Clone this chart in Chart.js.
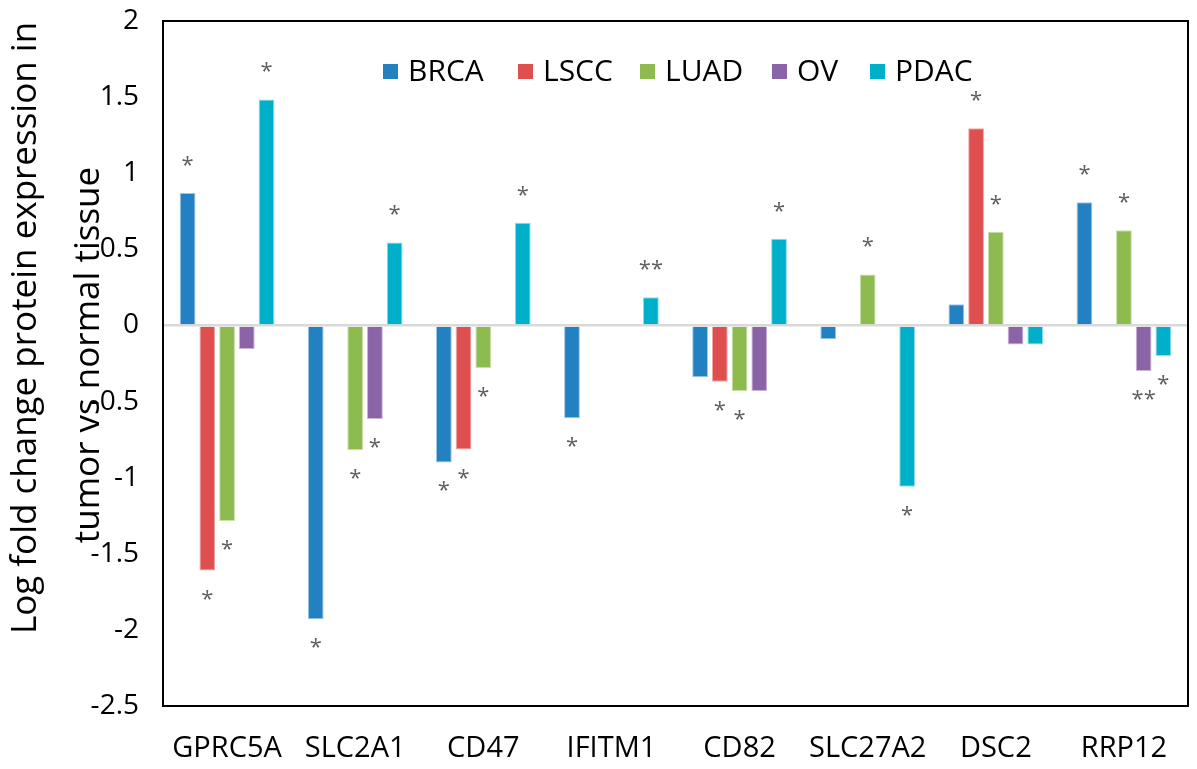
<!DOCTYPE html>
<html>
<head>
<meta charset="utf-8">
<script src="https://cdn.jsdelivr.net/npm/chart.js@4.4.1/dist/chart.umd.min.js"></script>
<style>
  html, body { margin: 0; padding: 0; background: #ffffff; }
  #wrap { width: 1197px; height: 769px; }
</style>
</head>
<body>
<div id="wrap"><canvas id="c" width="1197" height="769"></canvas></div>
<script>
// ---- data ----
const categories = ["GPRC5A", "SLC2A1", "CD47", "IFITM1", "CD82", "SLC27A2", "DSC2", "RRP12"];
const seriesNames = ["BRCA", "LSCC", "LUAD", "OV", "PDAC"];
const BRCA = [0.87, -1.93, -0.90, -0.61, -0.34, -0.09, 0.14, 0.81];
const LSCC = [-1.61, null, -0.815, null, -0.37, null, 1.295, null];
const LUAD = [-1.285, -0.82, -0.28, null, -0.43, 0.335, 0.615, 0.625];
const OV   = [-0.155, -0.615, null, null, -0.43, null, -0.125, -0.30];
const PDAC = [1.485, 0.545, 0.675, 0.185, 0.57, -1.06, -0.125, -0.20];
// significance marks
const sigBRCA = ["*", "*", "*", "*", "", "", "", "*"];
const sigLSCC = ["*", "", "*", "", "*", "", "*", ""];
const sigLUAD = ["*", "*", "*", "", "*", "*", "*", "*"];
const sigOV   = ["", "*", "", "", "", "", "", "**"];
const sigPDAC = ["*", "*", "*", "**", "*", "*", "", "*"];
const yTicks = [2, 1.5, 1, 0.5, 0, -0.5, -1, -1.5, -2, -2.5];
const yTitle = ["Log fold change protein expression in", "tumor vs normal tissue"];

const seriesValues = [BRCA, LSCC, LUAD, OV, PDAC];
const seriesSig = [sigBRCA, sigLSCC, sigLUAD, sigOV, sigPDAC];
const fillColors = ["#2381c2", "#df4f4f", "#8dbb4f", "#8a64a6", "#00afc9"];
const edgeColors = ["#9cc6e6", "#f0a9a9", "#c9e0a8", "#c8b4d6", "#8fdbe6"];

const FONT = "'Open Sans', 'Noto Sans', sans-serif";

const datasets = seriesNames.map((n, i) => ({
  label: n,
  data: seriesValues[i],
  backgroundColor: fillColors[i],
  borderColor: edgeColors[i],
  borderWidth: 1,
  categoryPercentage: 0.77,
  barPercentage: 0.8
}));

const decorPlugin = {
  id: 'decor',
  afterDraw(chart) {
    const ctx = chart.ctx;
    const a = chart.chartArea;
    ctx.save();
    // frame
    ctx.strokeStyle = "#000000";
    ctx.lineWidth = 2;
    ctx.strokeRect(a.left, a.top, a.right - a.left, a.bottom - a.top);

    // asterisks
    ctx.fillStyle = "#5f5f5f";
    ctx.font = "22px " + FONT;
    ctx.textAlign = "center";
    ctx.textBaseline = "alphabetic";
    seriesSig.forEach((sig, i) => {
      const meta = chart.getDatasetMeta(i);
      sig.forEach((s, j) => {
        if (!s) return;
        const v = seriesValues[i][j];
        const bar = meta.data[j];
        const m = ctx.measureText(s);
        const off = (m.actualBoundingBoxAscent - m.actualBoundingBoxDescent) / 2;
        const cy = v >= 0 ? bar.y - 32 : bar.y + 24;
        ctx.fillText(s, bar.x, cy + off);
      });
    });

    // legend
    ctx.font = "30px " + FONT;
    ctx.textAlign = "left";
    ctx.textBaseline = "middle";
    const legX = [383, 518, 640, 772, 870];
    const legY = 72;
    seriesNames.forEach((n, i) => {
      ctx.fillStyle = fillColors[i];
      ctx.fillRect(legX[i], legY - 8, 15, 15);
      ctx.fillStyle = "#000000";
      ctx.fillText(n, legX[i] + 25, legY);
    });

    // y title
    ctx.font = "35px " + FONT;
    ctx.fillStyle = "#000000";
    ctx.textAlign = "center";
    ctx.textBaseline = "alphabetic";
    const baseX = [36, 99];
    const centerY = [328, 355];
    yTitle.forEach((t, k) => {
      ctx.save();
      ctx.translate(baseX[k], centerY[k]);
      ctx.rotate(-Math.PI / 2);
      ctx.fillText(t, 0, 0);
      ctx.restore();
    });
    ctx.restore();
  }
};

new Chart(document.getElementById('c'), {
  type: 'bar',
  data: { labels: categories, datasets },
  options: {
    responsive: false,
    animation: false,
    devicePixelRatio: 1,
    layout: { padding: { left: 0, right: 9, top: 21, bottom: 0 } },
    plugins: { legend: { display: false }, tooltip: { enabled: false } },
    scales: {
      x: {
        grid: { display: false, drawTicks: false },
        border: { display: false },
        ticks: { color: "#000000", font: { family: FONT, size: 29 }, padding: 25, maxRotation: 0, autoSkip: false },
        afterFit(s) { s.height = 63; s.paddingLeft = 0; s.paddingRight = 0; }
      },
      y: {
        min: -2.5, max: 2,
        afterBuildTicks(s) { s.ticks = yTicks.map(v => ({ value: v })); },
        grid: {
          drawTicks: false,
          color: (c) => (c.tick && c.tick.value === 0 ? "#d9d9d9" : "rgba(0,0,0,0)"),
          lineWidth: (c) => (c.tick && c.tick.value === 0 ? 2.5 : 0)
        },
        border: { display: false },
        ticks: {
          color: "#000000", font: { family: FONT, size: 28 }, padding: 24,
          callback: (v) => String(v)
        },
        afterFit(s) { s.width = 163; s.paddingTop = 0; s.paddingBottom = 0; }
      }
    }
  },
  plugins: [decorPlugin]
});
</script>
</body>
</html>
